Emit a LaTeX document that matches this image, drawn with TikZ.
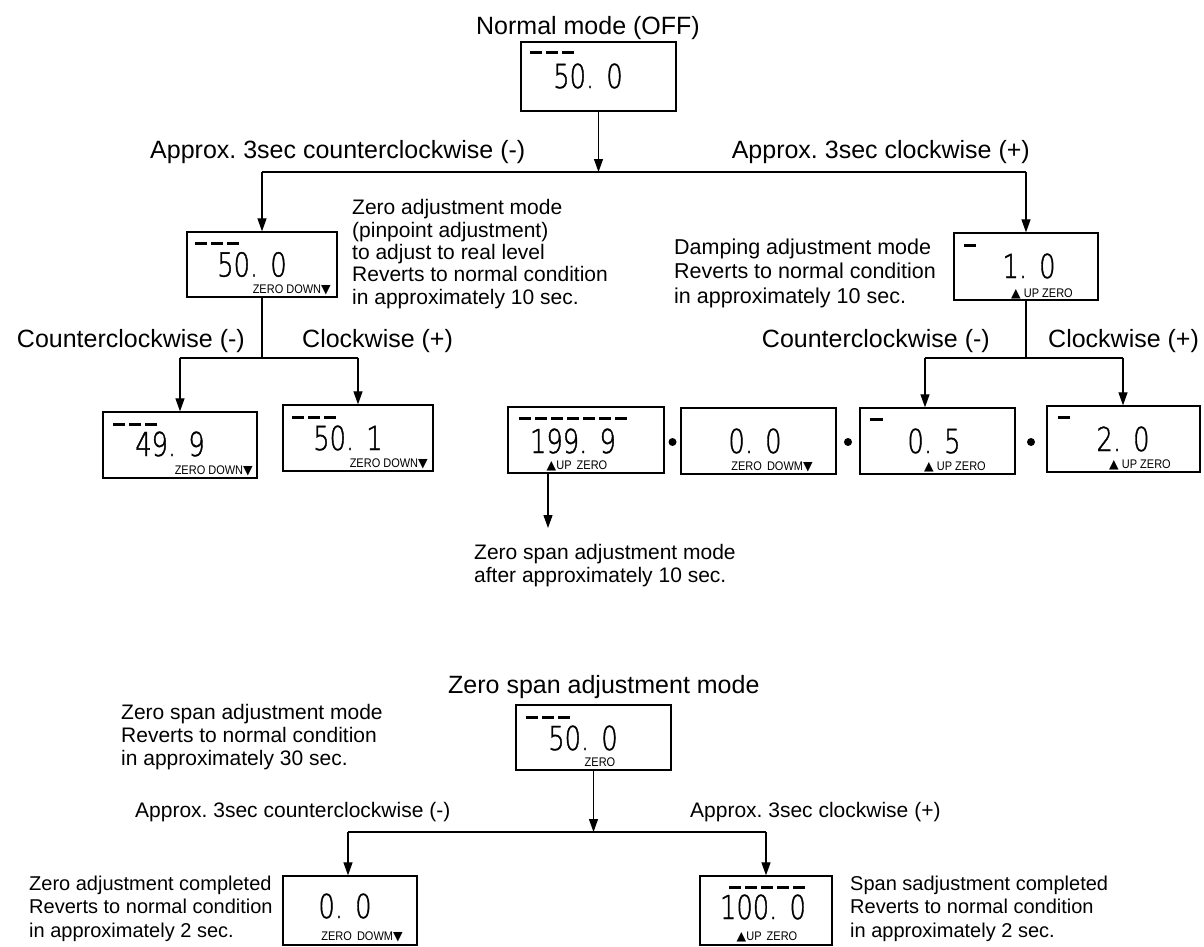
\documentclass[tikz,border=0pt]{standalone}
\usepackage{fontspec}
\setmainfont{Liberation Sans}
\IfFontExistsTF{DejaVu Sans ExtraLight}
  {\newfontfamily\lcdface[FakeStretch=0.78,FakeBold=1.2]{DejaVu Sans ExtraLight}}
  {\newfontfamily\lcdface[FakeStretch=0.78]{Liberation Sans}}
\newfontfamily\tagface[FakeStretch=0.88]{Liberation Sans}
\newfontfamily\symface{DejaVu Sans}
\usetikzlibrary{arrows.meta}

\tikzset{
  x=1pt, y=-1pt,
  lcd/.style={draw, line width=1.3pt, inner sep=0pt},
  conn/.style={line width=1.2pt},
  arr/.style={conn, -{Triangle[length=13pt,width=9pt]}},
  big/.style={font=\fontsize{25}{30}\selectfont, inner sep=0pt},
  mid/.style={font=\fontsize{21}{26}\selectfont, inner sep=0pt},
  small/.style={font=\fontsize{21}{23}\selectfont, inner sep=0pt, align=left},
  digits/.style={font=\lcdface\fontsize{33}{33}\selectfont, inner sep=0pt},
  tag/.style={font=\tagface\fontsize{12.5}{12.5}\selectfont, inner sep=0pt},
  bar/.style={line width=3pt},
  dot/.style={circle, fill, inner sep=0pt, minimum size=8pt},
}
% row of short LCD bars: start x, y, count
\newcommand\lcdbars[3]{\foreach \k in {1,...,#3}{\draw[bar] ({#1+(\k-1)*16},#2) -- ++(12,0);}}
\newcommand\dn{{\symface\char"25BC}}
\newcommand\up{{\symface\char"25B2}}
% the decimal point takes a cell of its own on the display
\newcommand\gap{\kern4pt}
\frenchspacing

\begin{document}
\begin{tikzpicture}
\useasboundingbox (0,0) rectangle (1204,947);

% ---------- normal mode ----------
\node[big, anchor=base] (t1) at (588,35) {Normal mode (OFF)};
\node[lcd, minimum width=155pt, minimum height=69pt] (n1) at (598.5,76.5) {};
\lcdbars{530}{53}{3}
\node[digits] (n1d) at (588,76) {50. \gap0};

\node[big, anchor=base west] (t2) at (150,158) {Approx. 3sec counterclockwise (-)};
\node[big, anchor=base east] (t3) at (1030,158) {Approx. 3sec clockwise (+)};

\coordinate (j0) at (598.5,172);
\coordinate (jl) at (262,172);
\coordinate (jr) at (1026,172);
\draw[arr] (n1.south) -- (j0);
\draw[conn] (jl) -- (jr);

% ---------- zero adjustment ----------
\node[lcd, minimum width=150pt, minimum height=65pt] (zc) at (262,264.5) {};
\lcdbars{195}{243}{3}
\node[digits] (zcd) at (252,264.5) {50. \gap0};
\node[tag, anchor=base east] (zct) at (331,293) {ZERO DOWN\dn};
\draw[arr] (jl) -- (zc.north);

% multi-line nodes: the base anchor sits on the last line
\node[small, anchor=base west, font=\fontsize{21}{22.3}\selectfont] (t4) at (352,304)
  {Zero adjustment mode\\(pinpoint adjustment)\\to adjust to real level\\Reverts to normal condition\\in approximately 10 sec.};

\coordinate (k0) at (262,358);
\coordinate (kl) at (180,358);
\coordinate (kr) at (358,358);
\draw[conn] (zc.south) -- (k0);
\draw[conn] (kl) -- (kr);
\node[big, anchor=base east] (t6) at (245,347) {Counterclockwise (-)};
\node[big, anchor=base west] (t7) at (302,347) {Clockwise (+)};

\node[lcd, minimum width=154pt, minimum height=66pt] (m1) at (180,445) {};
\lcdbars{113}{424}{3}
\node[digits] (m1d) at (170,444) {49. \gap9};
\node[tag, anchor=base east] (m1t) at (253,474) {ZERO DOWN\dn};

\node[lcd, minimum width=150pt, minimum height=66pt] (p1) at (358,438) {};
\lcdbars{292}{417}{3}
\node[digits] (p1d) at (348,438) {50. \gap1};
\node[tag, anchor=base east] (p1t) at (428,467) {ZERO DOWN\dn};

\draw[arr] (kl) -- (m1.north);
\draw[arr] (kr) -- (p1.north);

% ---------- damping ----------
\node[lcd, minimum width=144pt, minimum height=67pt] (dp) at (1026,266.5) {};
\draw[bar] (964,245) -- ++(12,0);
\node[digits] (dpd) at (1029,266) {1. \gap0};
\node[tag, anchor=base] (dpt) at (1042,297) {\up{} UP ZERO};
\draw[arr] (jr) -- (dp.north);

\node[small, anchor=base west, font=\fontsize{21.5}{24.5}\selectfont] (t5) at (674,303)
  {Damping adjustment mode\\Reverts to normal condition\\in approximately 10 sec.};

\coordinate (q0) at (1026,358);
\coordinate (ql) at (925,358);
\coordinate (qr) at (1123,358);
\draw[conn] (dp.south) -- (q0);
\draw[conn] (ql) -- (qr);
\node[big, anchor=base east] (t8) at (990,347) {Counterclockwise (-)};
\node[big, anchor=base west] (t9) at (1048,347) {Clockwise (+)};

\node[lcd, minimum width=156pt, minimum height=66pt] (a1) at (586,440) {};
\lcdbars{519}{418}{7}
\node[digits] (a1d) at (573,441) {199. \gap9};
\node[tag, anchor=base] (a1t) at (577,469) {\up UP\, ZERO};

\node[lcd, minimum width=155pt, minimum height=66pt] (b1) at (758.5,441) {};
\node[digits] (b1d) at (755,441) {0. \gap0};
\node[tag, anchor=base] (b1t) at (772,470) {ZERO\, DOWM\dn};

\node[lcd, minimum width=155pt, minimum height=66pt] (c1) at (937.5,441) {};
\draw[bar] (870,419) -- ++(13,0);
\node[digits] (c1d) at (934,441) {0. \gap5};
\node[tag, anchor=base] (c1t) at (955,470) {\up{} UP ZERO};

\node[lcd, minimum width=153pt, minimum height=66pt] (d1) at (1123.5,439) {};
\draw[bar] (1058,417) -- ++(12,0);
\node[digits] (d1d) at (1123,439) {2. \gap0};
\node[tag, anchor=base] (d1t) at (1140,468) {\up{} UP ZERO};

\draw[arr] (ql) -- (ql |- c1.north);
\draw[arr] (qr) -- (qr |- d1.north);

\node[dot] (o1) at (672.5,442) {};
\node[dot] (o2) at (848,442) {};
\node[dot] (o3) at (1031,442) {};

\coordinate (an) at (548,528);
\draw[arr] (a1.south -| an) -- (an);
\node[small, anchor=base west] (t10) at (474,582)
  {Zero span adjustment mode\\after approximately 10 sec.};

% ---------- zero span adjustment ----------
\node[big, anchor=base west] (t11) at (448,693) {Zero span adjustment mode};
\node[small, anchor=base west] (t12) at (121,765)
  {Zero span adjustment mode\\Reverts to normal condition\\in approximately 30 sec.};

\node[lcd, minimum width=155pt, minimum height=65pt] (zs) at (593.5,737.5) {};
\lcdbars{526}{717}{3}
\node[digits] (zsd) at (583,738) {50. \gap0};
\node[tag, anchor=base] (zst) at (600,766) {ZERO};

\coordinate (b0) at (593.5,832);
\coordinate (bl) at (348,832);
\coordinate (br) at (766,832);
\draw[arr] (zs.south) -- (b0);
\draw[conn] (bl) -- (br);
\node[mid, anchor=base west] (t13) at (135,817) {Approx. 3sec counterclockwise (-)};
\node[mid, anchor=base west] (t14) at (690,817) {Approx. 3sec clockwise (+)};

\node[lcd, minimum width=134pt, minimum height=69pt] (zd) at (350,910.5) {};
\node[digits] (zdd) at (345,906) {0. \gap0};
\node[tag, anchor=base] (zdt) at (362,940) {ZERO\, DOWM\dn};
\draw[arr] (bl) -- (bl |- zd.north);

\node[lcd, minimum width=132pt, minimum height=69pt] (sp) at (766,910.5) {};
\lcdbars{729}{887}{5}
\node[digits] (spd) at (763,907) {100. \gap0};
\node[tag, anchor=base] (spt) at (767,940.5) {\up UP\, ZERO};
\draw[arr] (br) -- (sp.north);

\node[small, anchor=base west, font=\fontsize{20}{23.5}\selectfont] (t15) at (29,937)
  {Zero adjustment completed\\Reverts to normal condition\\in approximately 2 sec.};
\node[small, anchor=base west, font=\fontsize{20}{23.5}\selectfont] (t16) at (850,937)
  {Span sadjustment completed\\Reverts to normal condition\\in approximately 2 sec.};
\end{tikzpicture}
\end{document}
